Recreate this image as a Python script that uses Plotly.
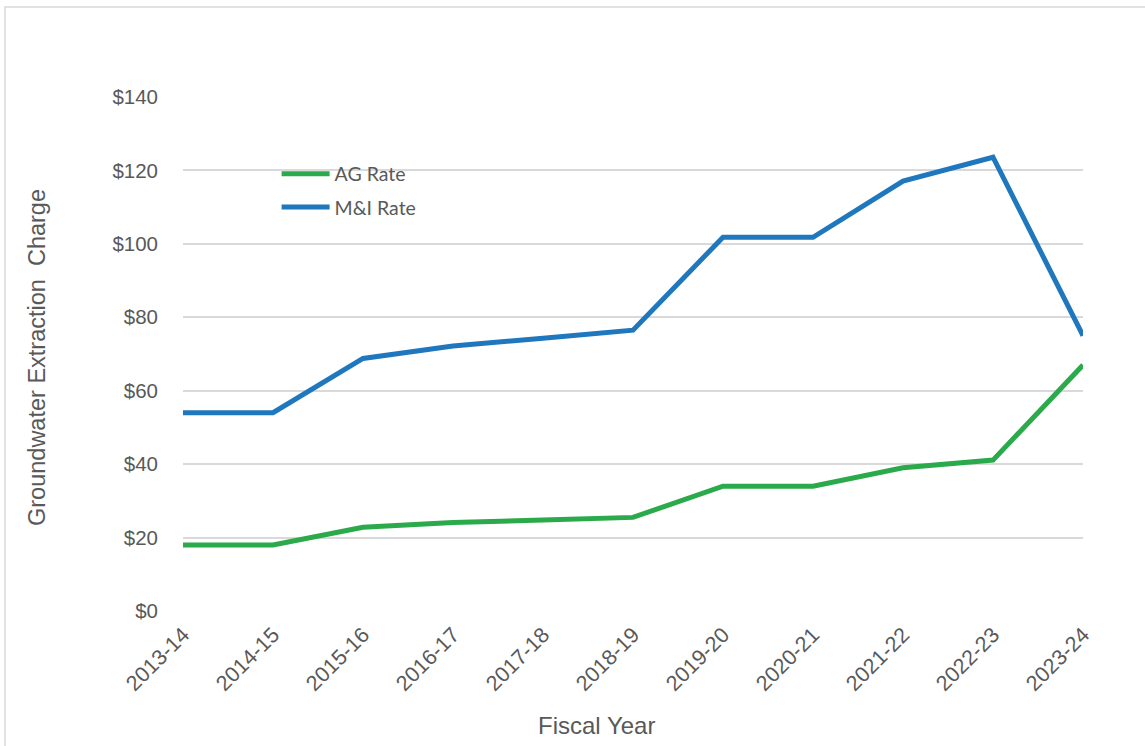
import plotly.graph_objects as go

years = ["2013-14", "2014-15", "2015-16", "2016-17", "2017-18", "2018-19",
         "2019-20", "2020-21", "2021-22", "2022-23", "2023-24"]
ag_rate = [18.0, 18.0, 22.8, 24.1, 24.8, 25.5, 34.0, 34.0, 39.0, 41.1, 67.0]
mi_rate = [54.0, 54.0, 68.8, 72.2, 74.3, 76.5, 101.8, 101.8, 117.1, 123.6, 75.0]
y_ticks = [0, 20, 40, 60, 80, 100, 120, 140]
y_labels = ["$" + str(v) for v in y_ticks]

TXT = "#595959"
FONT = "Liberation Sans, Arial, sans-serif"

fig = go.Figure()
fig.add_trace(go.Scatter(x=years, y=ag_rate, mode="lines", name="AG Rate",
                         legendgroup="ag",
                         line=dict(color="#2aaa4a", width=5)))
fig.add_trace(go.Scatter(x=years, y=mi_rate, mode="lines", name="M&I Rate",
                         legendgroup="mi",
                         line=dict(color="#1f77be", width=5)))

fig.update_layout(
    width=1145, height=746,
    margin=dict(l=183, r=62, t=97, b=135),
    paper_bgcolor="white", plot_bgcolor="white",
    font=dict(family=FONT, color=TXT, size=20),
    showlegend=True,
    legend=dict(x=0.104, y=0.888, xanchor="left", yanchor="top",
                bgcolor="rgba(0,0,0,0)", tracegroupgap=5,
                traceorder="grouped", itemwidth=48,
                font=dict(family="Lato, Liberation Sans, sans-serif", size=19.5, color=TXT)),
    xaxis=dict(type="category", range=[0, 10], showgrid=False, showline=False,
               zeroline=False, ticks="", tickangle=-45,
               ticklabelstandoff=6,
               tickfont=dict(size=21.5, color=TXT)),
    yaxis=dict(range=[0, 140], tickvals=y_ticks, ticktext=y_labels,
               showgrid=True, gridcolor="#d9d9d9", gridwidth=1.5,
               zeroline=False, showline=False, ticks="",
               ticklabelstandoff=24,
               tickfont=dict(size=20.5, color=TXT)),
    annotations=[
        dict(text="Fiscal Year", xref="paper", yref="paper",
             x=(596 - 183) / 900, y=(611 - 725) / 514,
             xanchor="center", yanchor="middle", showarrow=False,
             font=dict(size=24, color=TXT)),
        dict(text="Groundwater Extraction\u00a0 Charge", xref="paper", yref="paper",
             x=(37 - 183) / 900, y=(611 - 358) / 514, textangle=-90,
             xanchor="center", yanchor="middle", showarrow=False,
             font=dict(size=23.5, color=TXT)),
    ],
    shapes=[dict(type="rect", xref="paper", yref="paper",
                 x0=(5 - 183) / 900, x1=(1200 - 183) / 900,
                 y0=(611 - 800) / 514, y1=(611 - 7) / 514,
                 line=dict(color="#d9d9d9", width=1.5), fillcolor="rgba(0,0,0,0)",
                 layer="below")],
)

fig.write_html("out.html")
